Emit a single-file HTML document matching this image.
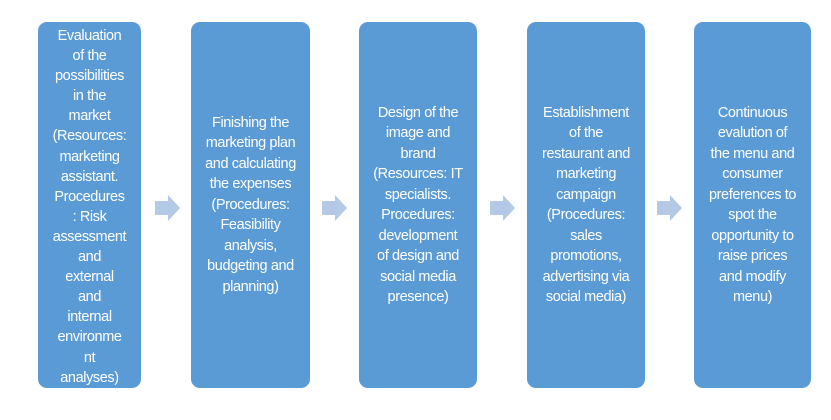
<!DOCTYPE html>
<html><head><meta charset="utf-8"><style>
body{margin:0;width:831px;height:420px;background:#fff;position:relative;overflow:hidden;font-family:"Liberation Sans",sans-serif;}
.b{position:absolute;top:22px;height:366px;background:#5b9bd5;border-radius:9px;color:#fff;font-size:14.5px;line-height:20.5px;text-align:center;display:flex;align-items:center;justify-content:center;letter-spacing:-0.4px;white-space:nowrap;}
.a{position:absolute;top:194px;}
</style></head><body>
<div class="b" style="left:38px;width:103px;line-height:20.1px;align-items:flex-start;height:362px;padding-top:4px">Evaluation<br>of the<br>possibilities<br>in the<br>market<br>(Resources:<br>marketing<br>assistant.<br>Procedures<br>: Risk<br>assessment<br>and<br>external<br>and<br>internal<br>environme<br>nt<br>analyses)</div>
<div class="b" style="left:191px;width:119px">Finishing the<br>marketing plan<br>and calculating<br>the expenses<br>(Procedures:<br>Feasibility<br>analysis,<br>budgeting and<br>planning)</div>
<div class="b" style="left:359px;width:118px">Design of the<br>image and<br>brand<br>(Resources: IT<br>specialists.<br>Procedures:<br>development<br>of design and<br>social media<br>presence)</div>
<div class="b" style="left:527px;width:118px">Establishment<br>of the<br>restaurant and<br>marketing<br>campaign<br>(Procedures:<br>sales<br>promotions,<br>advertising via<br>social media)</div>
<div class="b" style="left:694px;width:117px">Continuous<br>evalution of<br>the menu and<br>consumer<br>preferences to<br>spot the<br>opportunity to<br>raise prices<br>and modify<br>menu)</div>
<svg class="a" style="left:154px" width="28" height="28"><polygon points="1,7 14,7 14,1 26,14 14,27 14,21 1,21" fill="#b4c9e6"/></svg>
<svg class="a" style="left:321px" width="28" height="28"><polygon points="1,7 14,7 14,1 26,14 14,27 14,21 1,21" fill="#b4c9e6"/></svg>
<svg class="a" style="left:489px" width="28" height="28"><polygon points="1,7 14,7 14,1 26,14 14,27 14,21 1,21" fill="#b4c9e6"/></svg>
<svg class="a" style="left:656px" width="28" height="28"><polygon points="1,7 14,7 14,1 26,14 14,27 14,21 1,21" fill="#b4c9e6"/></svg>
</body></html>
